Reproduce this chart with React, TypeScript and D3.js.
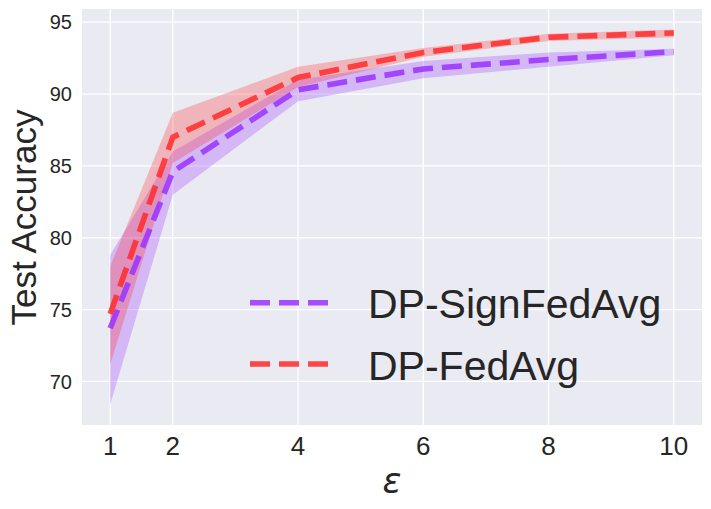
import React from "react";
import * as d3 from "d3";

const eps = [1, 2, 4, 6, 8, 10];
const signMean = [73.7, 84.6, 90.3, 91.75, 92.4, 92.95];
const signLower = [68.4, 83.0, 89.5, 91.1, 91.9, 92.7];
const signUpper = [78.8, 86.0, 91.0, 92.3, 92.9, 93.15];
const fedMean = [74.7, 87.0, 91.15, 92.9, 93.95, 94.25];
const fedLower = [71.2, 85.2, 90.5, 92.6, 93.7, 93.95];
const fedUpper = [78.0, 88.7, 91.9, 93.2, 94.2, 94.5];
const xTicks = [1, 2, 4, 6, 8, 10];
const yTicks = [70, 75, 80, 85, 90, 95];
const seriesNames = ["DP-SignFedAvg", "DP-FedAvg"];

const W = 711;
const H = 509;
const plot = { left: 82, right: 702, top: 9, bottom: 425 };
const FONT = "'Liberation Sans', Arial, sans-serif";
const TEXT = "#262626";
const PURPLE = "#9933ff";
const RED = "#ff2a2a";

export default function App() {
  const x = d3.scaleLinear().domain([0.55, 10.45]).range([plot.left, plot.right]);
  const y = d3.scaleLinear().domain([66.97, 95.92]).range([plot.bottom, plot.top]);

  const line = (vals: number[]) =>
    d3.line<number>().x((_, i) => x(eps[i])).y((v) => y(v))(vals) || "";
  const area = (lo: number[], hi: number[]) =>
    d3
      .area<number>()
      .x((_, i) => x(eps[i]))
      .y0((_, i) => y(lo[i]))
      .y1((_, i) => y(hi[i]))(lo) || "";

  const series = [
    { name: seriesNames[0], mean: signMean, lo: signLower, hi: signUpper, color: PURPLE, bandOp: 0.28 },
    { name: seriesNames[1], mean: fedMean, lo: fedLower, hi: fedUpper, color: RED, bandOp: 0.27 },
  ];

  return (
    <svg
      width={W}
      height={H}
      style={{ position: "absolute", left: 0, top: 0, background: "#fff" }}
    >
      <rect
        x={plot.left}
        y={plot.top}
        width={plot.right - plot.left}
        height={plot.bottom - plot.top}
        fill="#EAEAF2"
      />
      {yTicks.map((t) => (
        <line key={"gy" + t} x1={plot.left} x2={plot.right} y1={y(t)} y2={y(t)} stroke="#fff" strokeWidth={1.3} />
      ))}
      {xTicks.map((t) => (
        <line key={"gx" + t} x1={x(t)} x2={x(t)} y1={plot.top} y2={plot.bottom} stroke="#fff" strokeWidth={1.3} />
      ))}
      {series.map((s) => (
        <path key={"a" + s.name} d={area(s.lo, s.hi)} fill={s.color} fillOpacity={s.bandOp} stroke="none" />
      ))}
      {series.map((s) => (
        <path
          key={"l" + s.name}
          d={line(s.mean)}
          fill="none"
          stroke={s.color}
          strokeOpacity={0.85}
          strokeWidth={5.6}
          strokeDasharray="20 9"
        />
      ))}
      {yTicks.map((t) => (
        <text key={"ty" + t} x={72} y={y(t)} dy="0.36em" textAnchor="end" fontFamily={FONT} fontSize={20} fill={TEXT}>
          {t}
        </text>
      ))}
      {xTicks.map((t) => (
        <text key={"tx" + t} x={x(t)} y={455} textAnchor="middle" fontFamily={FONT} fontSize={26} fill={TEXT}>
          {t}
        </text>
      ))}
      <text
        transform={`translate(36, ${(110 + 325) / 2}) rotate(-90)`}
        textAnchor="middle"
        fontFamily={FONT}
        fontSize={35}
        fill={TEXT}
      >
        Test Accuracy
      </text>
      <text x={392} y={493} textAnchor="middle" fontFamily="'DejaVu Sans', sans-serif" fontStyle="italic" fontSize={35} fill={TEXT}>
        ε
      </text>
      {series.map((s, i) => {
        const ly = i === 0 ? 302.7 : 364;
        const by = i === 0 ? 318.3 : 380;
        return (
          <g key={"lg" + s.name}>
            <line x1={250} x2={329} y1={ly} y2={ly} stroke={s.color} strokeOpacity={0.85} strokeWidth={5.6} strokeDasharray="20 9" />
            <text x={368} y={by} fontFamily={FONT} fontSize={41} fill={TEXT}>
              {s.name}
            </text>
          </g>
        );
      })}
    </svg>
  );
}
